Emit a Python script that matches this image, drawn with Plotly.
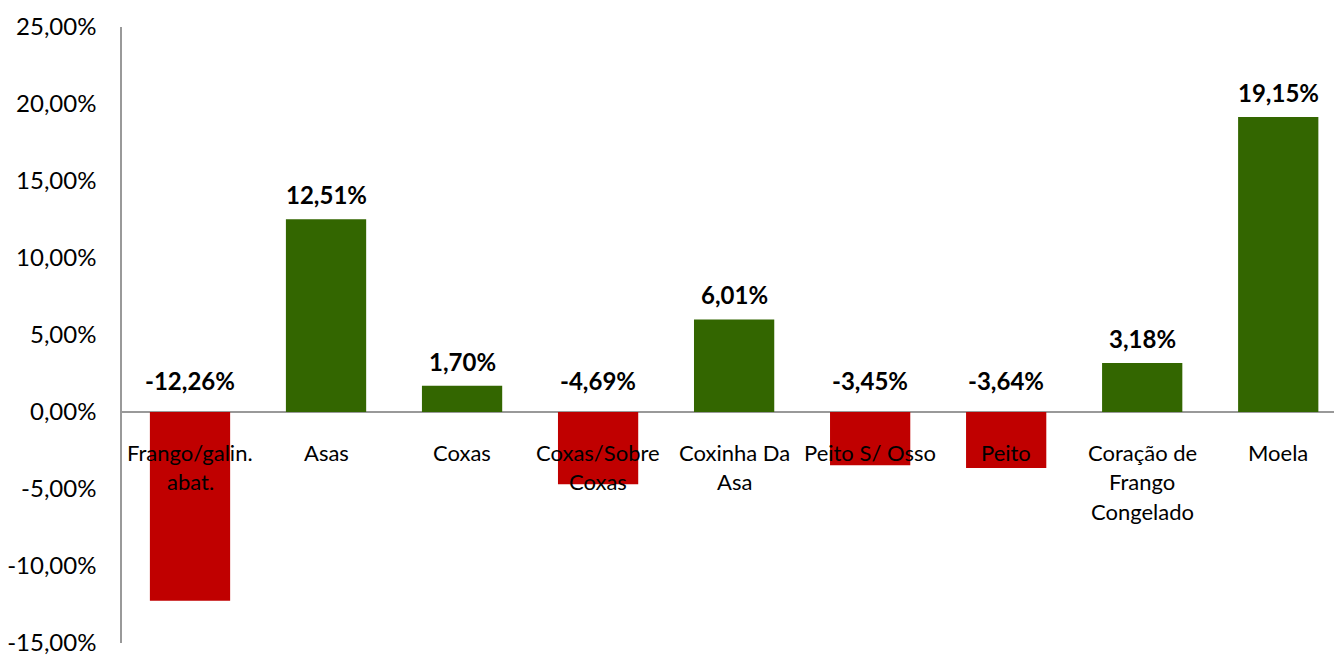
import plotly.graph_objects as go

# Variação de preços por corte de frango (%)
categories = [
    "Frango/galin.\nabat.",
    "Asas",
    "Coxas",
    "Coxas/Sobre\nCoxas",
    "Coxinha Da\nAsa",
    "Peito S/ Osso",
    "Peito",
    "Coração de\nFrango\nCongelado",
    "Moela",
]
values = [-12.26, 12.51, 1.70, -4.69, 6.01, -3.45, -3.64, 3.18, 19.15]
y_ticks = [-15, -10, -5, 0, 5, 10, 15, 20, 25]


def pct(v):
    return f"{v:.2f}".replace(".", ",") + "%"


y_tick_text = [pct(v) for v in y_ticks]

GREEN = "#336600"
RED = "#C00000"
FONT = "Lato"

x_idx = list(range(len(categories)))
colors = [GREEN if v >= 0 else RED for v in values]

fig = go.Figure(
    go.Bar(
        x=x_idx,
        y=values,
        marker=dict(color=colors, line=dict(width=0)),
        width=0.59,
        hoverinfo="skip",
    )
)

annotations = []
# value labels sit above the bar (positive) or above the zero line (negative)
for i, v in enumerate(values):
    annotations.append(
        dict(
            x=i, y=max(v, 0), xref="x", yref="y",
            text=f"<b>{pct(v)}</b>", showarrow=False,
            yanchor="bottom", xanchor="center",
            yshift=8 if v >= 0 else 15,
            font=dict(family=FONT, size=24, color="#000000"),
        )
    )

# category names drawn just below the zero line, one annotation per line
for i, cat in enumerate(categories):
    for j, line in enumerate(cat.split("\n")):
        annotations.append(
            dict(
                x=i, y=0, xref="x", yref="y",
                text=line, showarrow=False,
                yanchor="middle", xanchor="center",
                yshift=-(40 + j * 29.5),
                font=dict(family=FONT, size=22, color="#000000"),
            )
        )

fig.update_layout(
    width=1334,
    height=655,
    margin=dict(l=122, r=0, t=27, b=12),
    paper_bgcolor="white",
    plot_bgcolor="white",
    showlegend=False,
    annotations=annotations,
    xaxis=dict(
        range=[-0.5, 8.41],
        showticklabels=False,
        showgrid=False,
        showline=False,
        zeroline=False,
        ticks="",
    ),
    yaxis=dict(
        range=[-15, 25],
        tickmode="array",
        tickvals=y_ticks,
        ticktext=y_tick_text,
        ticklabeloverflow="allow",
        showgrid=False,
        showline=True,
        linecolor="#999999",
        linewidth=1.5,
        zeroline=True,
        zerolinecolor="#999999",
        zerolinewidth=1.5,
        ticks="",
        ticklabelstandoff=19,
        tickfont=dict(family=FONT, size=24, color="#000000"),
    ),
)

fig.write_html("out.html")
